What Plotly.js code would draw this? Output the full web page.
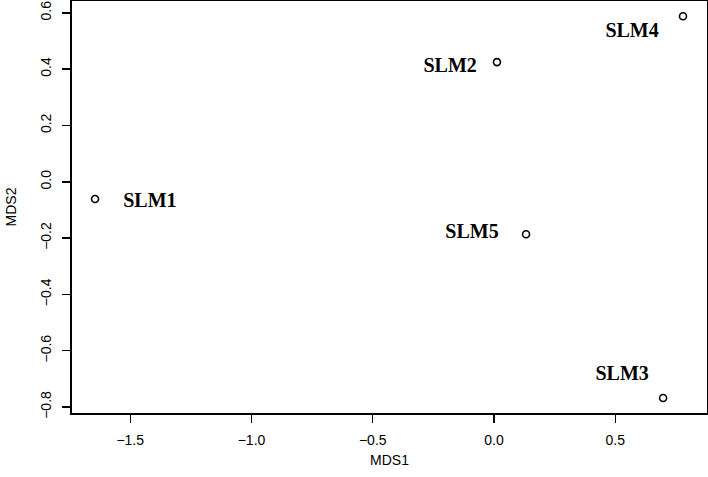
<!DOCTYPE html>
<html>
<head>
<meta charset="utf-8">
<script src="https://cdn.plot.ly/plotly-3.0.1.min.js"></script>
<style>
  html, body { margin: 0; padding: 0; background: #fff; }
  #chart { width: 708px; height: 477px; }
</style>
</head>
<body>
<div id="chart"></div>
<script>
// MDS site coordinates
const sites = ["SLM1", "SLM2", "SLM3", "SLM4", "SLM5"];
const mds1 = [-1.645, 0.012, 0.697, 0.779, 0.132];
const mds2 = [-0.061, 0.425, -0.768, 0.588, -0.186];

// label anchor points (text() placement in the original)
const labelX = [-1.419, -0.181, 0.528, 0.569, -0.091];
const labelY = [-0.072, 0.407, -0.686, 0.532, -0.182];

const xTicks = [-1.5, -1.0, -0.5, 0.0, 0.5];
const yTicks = [-0.8, -0.6, -0.4, -0.2, 0.0, 0.2, 0.4, 0.6];

const points = {
  x: mds1,
  y: mds2,
  mode: "markers",
  type: "scatter",
  marker: { symbol: "circle-open", size: 7, color: "black", line: { width: 1.6, color: "black" } },
  hoverinfo: "skip",
};

const labels = {
  x: labelX,
  y: labelY,
  mode: "text",
  type: "scatter",
  text: sites,
  textposition: "middle center",
  textfont: { family: "Liberation Serif, Times New Roman, serif", size: 20, color: "black", weight: "bold" },
  hoverinfo: "skip",
};

const axisBase = {
  showgrid: false,
  zeroline: false,
  showline: true,
  mirror: true,
  linecolor: "black",
  linewidth: 1.6,
  ticks: "outside",
  ticklen: 8,
  tickwidth: 1.4,
  tickcolor: "black",
  tickfont: { family: "Liberation Sans, Arial, sans-serif", size: 14, color: "black" },
};

const layout = {
  width: 708,
  height: 477,
  margin: { l: 72, r: 1, t: 1, b: 64 },
  showlegend: false,
  paper_bgcolor: "white",
  plot_bgcolor: "white",
  xaxis: Object.assign({}, axisBase, {
    range: [-1.74, 0.878],
    tickvals: xTicks,
    ticktext: xTicks.map((v) => v.toFixed(1).replace("-", "\u2212")),
    ticklabelstandoff: 6,
    title: { text: "MDS1", font: { family: "Liberation Sans, Arial, sans-serif", size: 14, color: "black" }, standoff: 8 },
  }),
  yaxis: Object.assign({}, axisBase, {
    range: [-0.821, 0.642],
    tickvals: yTicks,
    ticktext: yTicks.map((v) => v.toFixed(1).replace("-", "\u2212")),
    tickangle: -90,
    ticklabelstandoff: 6,
    title: { text: "MDS2", font: { family: "Liberation Sans, Arial, sans-serif", size: 14, color: "black" }, standoff: 18 },
  }),
};

Plotly.newPlot("chart", [points, labels], layout, { staticPlot: true });
</script>
</body>
</html>
